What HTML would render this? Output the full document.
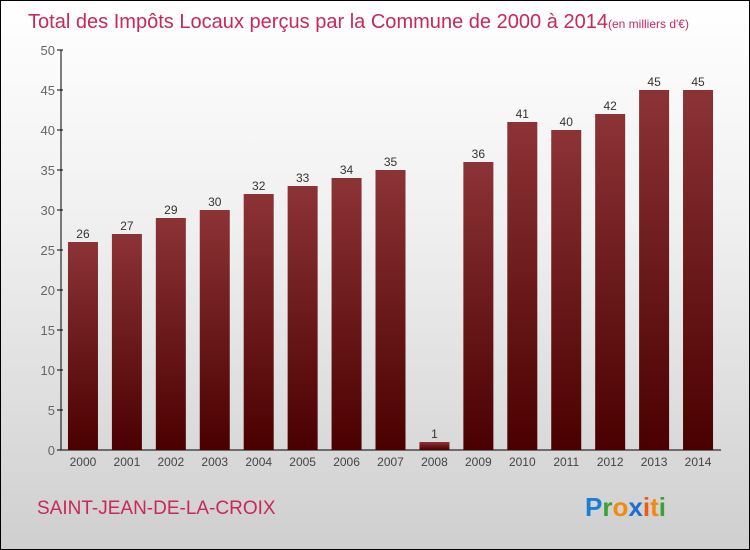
<!DOCTYPE html>
<html><head><meta charset="utf-8"><style>
body{margin:0;}
#wrap{position:relative;width:748px;height:548px;border:1px solid #000;background:linear-gradient(#ffffff,#f0f0f0 40%,#cfcfcf);font-family:"Liberation Sans",sans-serif;overflow:hidden}
</style></head><body>
<div id="wrap">
<svg width="748" height="548">
<defs><linearGradient id="bg" x1="0" y1="0" x2="0" y2="1"><stop offset="0" stop-color="#8c3336"/><stop offset="1" stop-color="#4a0000"/></linearGradient></defs>
<text x="27" y="27" font-size="20" fill="#c8285a"><tspan textLength="580" lengthAdjust="spacingAndGlyphs">Total des Impôts Locaux perçus par la Commune de 2000 à 2014</tspan><tspan font-size="12">(en milliers d'€)</tspan></text>
<g id="plot"></g>
<text x="36" y="513" font-size="19" fill="#c8285a">SAINT-JEAN-DE-LA-CROIX</text>
<text x="584" y="515" font-size="26" font-weight="bold"><tspan fill="#1a7fd4">P</tspan><tspan fill="#3aa03a">r</tspan><tspan fill="#f08a10">o</tspan><tspan fill="#1a6fd0">x</tspan><tspan fill="#f05a10">i</tspan><tspan fill="#f08a10">t</tspan><tspan fill="#3aa03a">i</tspan></text>
</svg>
</div>
<script>
const years=["2000","2001","2002","2003","2004","2005","2006","2007","2008","2009","2010","2011","2012","2013","2014"];
const values=[26,27,29,30,32,33,34,35,1,36,41,40,42,45,45];
const yTicks=[0,5,10,15,20,25,30,35,40,45,50];
const NS="http://www.w3.org/2000/svg";
const g=document.getElementById('plot');
const x0=60,x1=719,yb=449,yt=49,ymax=50;
const band=(x1-x0)/years.length;
const y=v=>yb-(v/ymax)*(yb-yt);
const xc=i=>x0+(i+0.5)*band;
function mk(t,a){const e=document.createElementNS(NS,t);for(const k in a)e.setAttribute(k,a[k]);g.appendChild(e);return e;}
let ax=mk('line',{x1:x0,y1:yt,x2:x0,y2:yb,stroke:'#000'});


let bx=mk('line',{x1:x0,y1:yb,x2:x1+1,y2:yb,stroke:'#000'});


yTicks.forEach(v=>{
 mk('line',{x1:x0-4,y1:y(v),x2:x0+2,y2:y(v),stroke:'#000'});
 const t=mk('text',{x:x0-6,y:y(v)+5,'text-anchor':'end','font-size':13,fill:'#666'});t.textContent=v;
 
 
});
years.forEach((yr,i)=>{
 const r=mk('rect',{x:xc(i)-15,y:y(values[i]),width:30,height:yb-y(values[i]),fill:'url(#bg)'});
 
 
 const l=mk('text',{x:xc(i),y:y(values[i])-4,'text-anchor':'middle','font-size':12,fill:'#333'});l.textContent=values[i];
 
 
 const xl=mk('text',{x:xc(i),y:yb+16,'text-anchor':'middle','font-size':12,fill:'#444'});xl.textContent=yr;
 
 
});
</script>
</body></html>
